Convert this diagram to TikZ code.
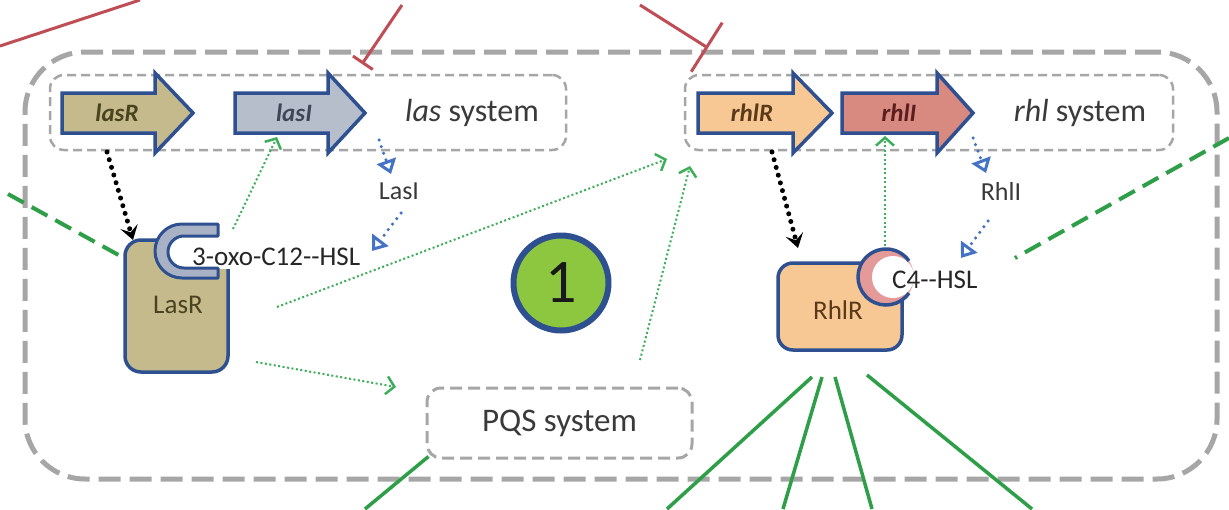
\documentclass[tikz,border=0pt]{standalone}
\usepackage{fontspec}
\setmainfont{Carlito}
\usetikzlibrary{arrows.meta}
\definecolor{boxgray}{HTML}{A6A6A6}
\definecolor{navy}{HTML}{2F5090}
\definecolor{lasRfill}{HTML}{C4BA8C}
\definecolor{lasIfill}{HTML}{B7BECB}
\definecolor{rhlRfill}{HTML}{F8C894}
\definecolor{rhlIfill}{HTML}{D98A80}
\definecolor{pocketgray}{HTML}{A9B2C4}
\definecolor{pocketpink}{HTML}{E49A98}
\definecolor{dotgreen}{HTML}{3DAE5A}
\definecolor{solidgreen}{HTML}{2E9E48}
\definecolor{inhred}{HTML}{BF4D55}
\definecolor{sigblue}{HTML}{4472C4}
\definecolor{txtgray}{HTML}{3A3A3A}
\definecolor{ballgreen}{HTML}{8DC63F}
\definecolor{lasRtxt}{HTML}{4A4320}
\definecolor{lasItxt}{HTML}{3E4658}
\definecolor{rhlRtxt}{HTML}{5A3A18}
\definecolor{rhlItxt}{HTML}{5A1E1E}
\newcommand\blkarrow[4]{%
  \draw[navy, line width=3.5pt, line join=miter, fill=#4]
    (#1,93) -- (#2,93) -- (#2,73) -- (#3,113) -- (#2,153) -- (#2,133) -- (#1,133) -- cycle;}
\begin{document}
\begin{tikzpicture}[x=1pt,y=-1pt,
  outerbox/.style={draw=boxgray, line width=5pt, dash pattern=on 22pt off 9pt, rounded corners=60pt, inner sep=0pt},
  sysbox/.style={draw=boxgray, line width=2.5pt, dash pattern=on 9pt off 5pt, rounded corners=14pt, inner sep=0pt},
  genelabel/.style={font=\fontsize{25}{28}\selectfont\bfseries\itshape, inner sep=0pt},
  systext/.style={font=\fontsize{32}{36}\selectfont, text=txtgray, inner sep=0pt},
  smalltext/.style={font=\fontsize{26}{30}\selectfont, text=txtgray, inner sep=0pt},
  greendot/.style={draw=dotgreen, line width=2pt, dash pattern=on 2pt off 2.5pt, -{Straight Barb[length=8pt,width=18pt,line width=2.5pt]}},
  blackdot/.style={draw=black, line width=5pt, dash pattern=on 0pt off 8pt, line cap=round, -{Stealth[length=14pt,width=18pt,inset=6pt]}},
  bluedot/.style={draw=sigblue, line width=3.5pt, dash pattern=on 0pt off 7pt, line cap=round, -{Triangle[open,length=14pt,width=20pt,line width=3pt]}},
  greenline/.style={draw=solidgreen, line width=3.5pt},
  greendash/.style={draw=solidgreen, line width=4pt, dash pattern=on 18pt off 9pt},
  inhibit/.style={draw=inhred, line width=3pt}
]
\useasboundingbox (0,0) rectangle (1229,509);
\fill[white] (0,0) rectangle (1229,509);

% boxes
\node[outerbox, minimum width=1192pt, minimum height=427pt] (cell) at (621,265.5) {};
\node[sysbox, minimum width=516pt, minimum height=75pt] (lasbox) at (308,112.5) {};
\node[sysbox, minimum width=488pt, minimum height=75pt] (rhlbox) at (929,112.5) {};
\node[sysbox, line width=3pt, dash pattern=on 12pt off 6pt, minimum width=265pt, minimum height=70pt,
      font=\fontsize{33}{36}\selectfont, text=txtgray] (pqs) at (559.5,423) {PQS system};

% circle 1
\node[circle, draw=navy, line width=6pt, fill=ballgreen, minimum size=95pt, inner sep=0pt,
      font=\fontsize{62}{64}\selectfont, text=black!90] (one) at (561,283) {1};

% coordinates for free ends
\coordinate (r1a) at (0,46);    \coordinate (r1b) at (140,0);
\coordinate (r2a) at (402,5);   \coordinate (r2b) at (362,64);
\coordinate (r3a) at (640,5);   \coordinate (r3b) at (708,48);
\coordinate (pqsout) at (365,509);
\coordinate (rhlRbot1) at (812,377); \coordinate (out1) at (667,509);
\coordinate (rhlRbot2) at (822,377); \coordinate (out2) at (783,509);
\coordinate (rhlRbot3) at (835,377); \coordinate (out3) at (872,509);
\coordinate (rhlRbot4) at (867,375); \coordinate (out4) at (1032,509);
\coordinate (gdL1) at (8,194);  \coordinate (gdL2) at (124,258);
\coordinate (gdR1) at (1229,138); \coordinate (gdR2) at (1015,258);

% inhibition lines
\draw[inhibit] (r1a) -- (r1b);
\draw[inhibit, -{Bar[width=24pt]}] (r2a) -- (r2b);
\draw[inhibit, -{Bar[width=58pt]}] (r3a) -- (r3b);

% solid green lines
\draw[greenline] (pqs.south west) ++(3,-3) coordinate (pqssw) -- (pqsout);
\draw[greenline] (rhlRbot1) -- (out1);
\draw[greenline] (rhlRbot2) -- (out2);
\draw[greenline] (rhlRbot3) -- (out3);
\draw[greenline] (rhlRbot4) -- (out4);
% dashed green lines
\draw[greendash] (gdL1) -- (gdL2);
\draw[greendash] (gdR1) -- (gdR2);

% gene arrows
\blkarrow{62}{155}{193}{lasRfill}
\blkarrow{235}{328}{365}{lasIfill}
\blkarrow{698}{793}{832}{rhlRfill}
\blkarrow{842}{937}{973}{rhlIfill}
\node[genelabel, text=lasRtxt] (lasRgene) at (117,113) {lasR};
\node[genelabel, text=lasItxt] (lasIgene) at (294,113) {lasI};
\node[genelabel, text=rhlRtxt] (rhlRgene) at (752,113) {rhlR};
\node[genelabel, text=rhlItxt] (rhlIgene) at (899,113) {rhlI};
\node[systext] (lastxt) at (472,113) {\itshape las\upshape\ system};
\node[systext] (rhltxt) at (1080,113) {\itshape rhl\upshape\ system};

% LasR protein
\draw[navy, line width=3.5pt, fill=lasRfill, rounded corners=16pt] (125,240) rectangle (228,372);
\fill[white] (168,236) rectangle (232,269);
\draw[navy, line width=3pt, fill=pocketgray, line join=round]
  (218,224) -- (182,224) arc[start angle=270, end angle=90, radius=27] -- (218,278) -- (218,268)
  -- (184,268) arc[start angle=90, end angle=270, radius=16] -- (218,236) -- cycle;
\node[font=\fontsize{27}{30}\selectfont, text=lasRtxt, inner sep=0pt] (LasR) at (178,305) {LasR};
\node[font=\fontsize{27}{30}\selectfont, text=black!85, inner sep=0pt, anchor=west] (oxo) at (192,257) {3-oxo-C12{-}{-}HSL};

% RhlR protein
\draw[navy, line width=3.5pt, fill=rhlRfill, rounded corners=15pt] (778,263) rectangle (902,350);
\fill[white] (886,277) circle[radius=29];
\fill[pocketpink] (886,277) circle[radius=28];
\fill[white] (893,277) circle[radius=21];
\draw[navy, line width=3.5pt] (886,277) ++(35:28) arc[start angle=35, end angle=325, radius=28];
\node[font=\fontsize{27}{30}\selectfont, text=rhlRtxt, inner sep=0pt] (RhlR) at (838,310) {RhlR};
\node[font=\fontsize{27}{30}\selectfont, text=black!85, inner sep=0pt, anchor=west] (c4) at (892,280) {C4{-}{-}HSL};

% LasI / RhlI
\node[smalltext] (LasI) at (399,191) {LasI};
\node[smalltext] (RhlI) at (1001,191) {RhlI};

% dotted arrows
\coordinate (bA1) at (107,152); \coordinate (bA2) at (133,240);
\coordinate (bB1) at (772,152); \coordinate (bB2) at (798,248);
\draw[blackdot] (bA1) -- (bA2);
\draw[blackdot] (bB1) -- (bB2);

\coordinate (u1) at (379,140); \coordinate (u2) at (391,174);
\coordinate (u3) at (401,213); \coordinate (u4) at (372,251);
\coordinate (u5) at (973,138); \coordinate (u6) at (986,173);
\coordinate (u7) at (988,221); \coordinate (u8) at (961,258);
\draw[bluedot] (u1) -- (u2);
\draw[bluedot] (u3) -- (u4);
\draw[bluedot] (u5) -- (u6);
\draw[bluedot] (u7) -- (u8);

\coordinate (g1) at (233,229); \coordinate (g2) at (277,137);
\coordinate (g3) at (277,307); \coordinate (g4) at (667,159);
\coordinate (g5) at (256,362); \coordinate (g6) at (396,387);
\coordinate (g7) at (640,360); \coordinate (g8) at (690,166);
\coordinate (g9) at (885,246); \coordinate (g10) at (885,136);
\draw[greendot] (g1) -- (g2);
\draw[greendot] (g3) -- (g4);
\draw[greendot] (g5) -- (g6);
\draw[greendot] (g7) -- (g8);
\draw[greendot] (g9) -- (g10);
\end{tikzpicture}
\end{document}
